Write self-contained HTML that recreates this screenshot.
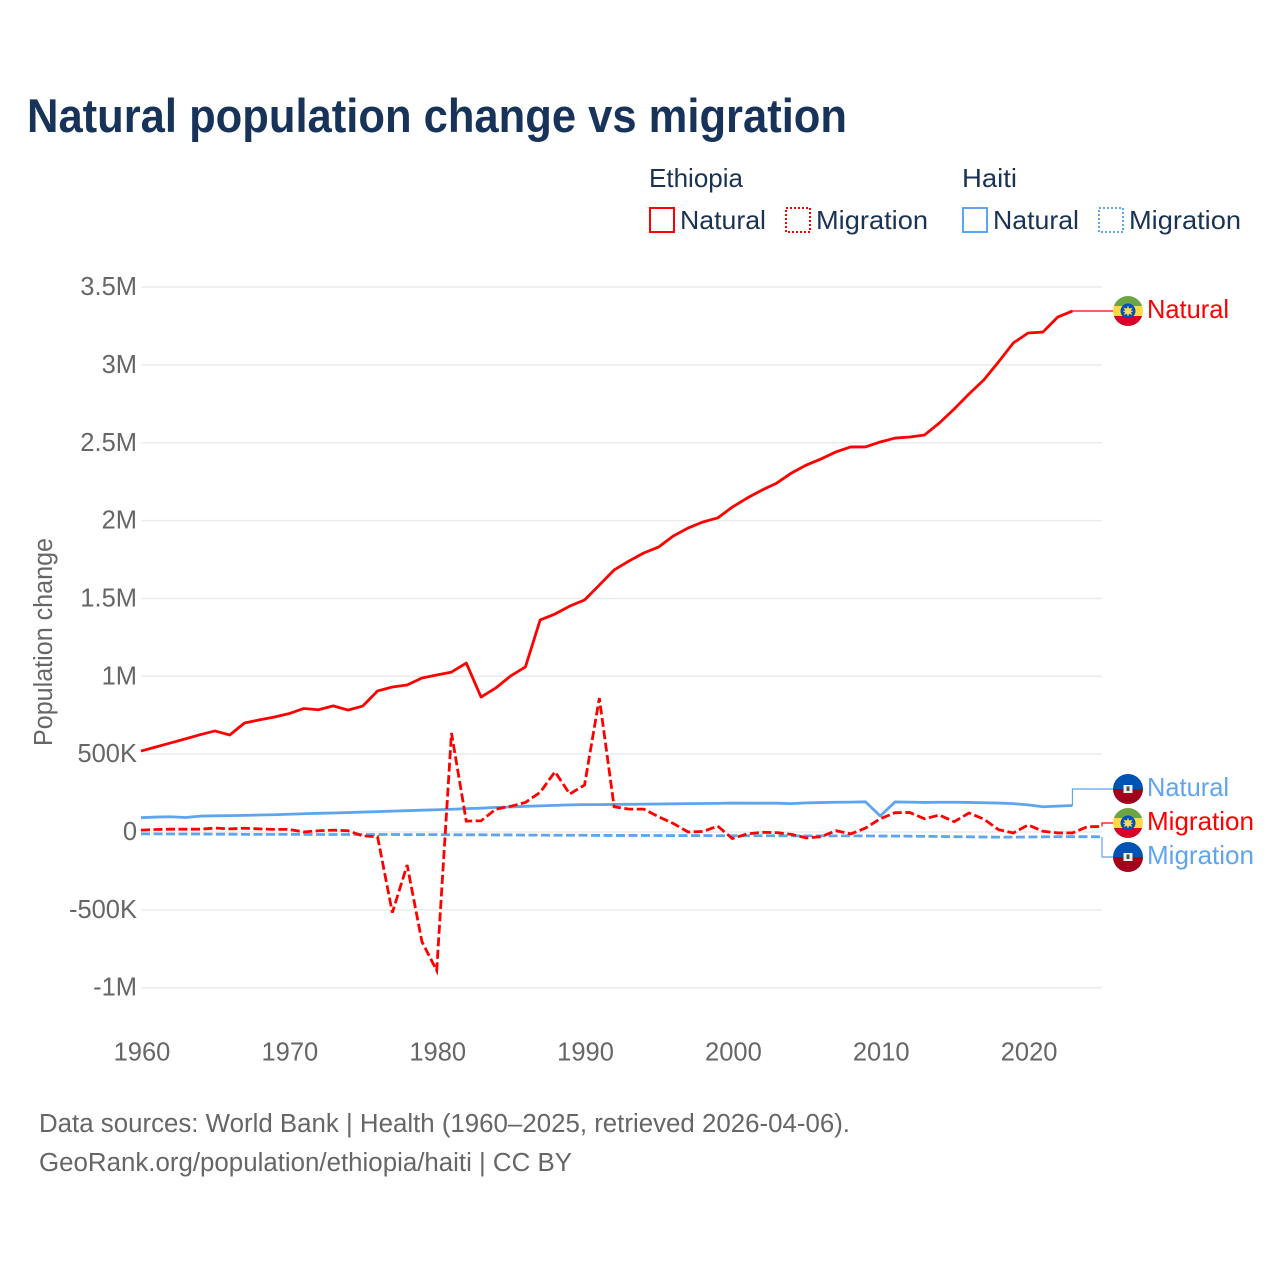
<!DOCTYPE html>
<html lang="en">
<head>
<meta charset="utf-8">
<title>Natural population change vs migration</title>
<style>
html,body{margin:0;padding:0;background:#fff;width:1280px;height:1280px;overflow:hidden}
svg{display:block}
text{font-family:"Liberation Sans",sans-serif}
.tick{font-size:25.5px;fill:#666}
.leg{font-size:26px;fill:#1a3354}
.lab{font-size:26px}
.foot{font-size:25.5px;fill:#666}
</style>
</head>
<body>
<svg id="chart" xmlns="http://www.w3.org/2000/svg" width="1280" height="1280" viewBox="0 0 1280 1280">
  <defs>
    <clipPath id="flag-clip"><circle cx="15" cy="15" r="15"/></clipPath>
    <g id="flag-et" clip-path="url(#flag-clip)">
      <rect width="30" height="10" fill="#6da544"/>
      <rect y="10" width="30" height="10" fill="#ffda44"/>
      <rect y="20" width="30" height="10" fill="#d80027"/>
      <circle cx="15" cy="15" r="7.5" fill="#0052b4"/>
      <polygon points="15,9.5 16.2,12.6 19.4,11.6 17.9,14.6 20.5,15 17.9,16.4 19.4,18.9 16.2,17.9 15,20.5 13.8,17.9 10.6,18.9 12.1,16.4 9.5,15 12.1,14.6 10.6,11.6 13.8,12.6" fill="#ffda44"/>
    </g>
    <g id="flag-ht" clip-path="url(#flag-clip)">
      <rect width="30" height="15" fill="#0052b4"/>
      <rect y="15" width="30" height="15" fill="#a2001d"/>
      <rect x="10.5" y="11" width="9" height="8" fill="#f0f0f0"/>
      <rect x="13.5" y="12.5" width="3" height="4.5" fill="#3d5a3a"/>
    </g>
  </defs>

  <text x="27" y="132" font-size="47" font-weight="700" fill="#17335a" textLength="820" lengthAdjust="spacingAndGlyphs">Natural population change vs migration</text>

  <g>
    <text class="leg" x="649" y="187" textLength="94" lengthAdjust="spacingAndGlyphs">Ethiopia</text>
    <text class="leg" x="962" y="187" textLength="55" lengthAdjust="spacingAndGlyphs">Haiti</text>
    <rect x="650" y="208" width="24" height="24" fill="none" stroke="#ff0000" stroke-width="2"/>
    <text class="leg" x="680" y="229" textLength="86" lengthAdjust="spacingAndGlyphs">Natural</text>
    <rect x="786" y="208" width="24" height="24" fill="none" stroke="#ff0000" stroke-width="2" stroke-dasharray="2 2"/>
    <text class="leg" x="816" y="229" textLength="112" lengthAdjust="spacingAndGlyphs">Migration</text>
    <rect x="963" y="208" width="24" height="24" fill="none" stroke="#5fa5ee" stroke-width="2"/>
    <text class="leg" x="993" y="229" textLength="86" lengthAdjust="spacingAndGlyphs">Natural</text>
    <rect x="1099" y="208" width="24" height="24" fill="none" stroke="#5fa5ee" stroke-width="2" stroke-dasharray="2 2"/>
    <text class="leg" x="1129" y="229" textLength="112" lengthAdjust="spacingAndGlyphs">Migration</text>
  </g>

  <text transform="translate(52,642) rotate(-90)" text-anchor="middle" font-size="25.5" fill="#666" textLength="208" lengthAdjust="spacingAndGlyphs">Population change</text>

  <g id="grid"></g>
  <g id="yticks"></g>
  <g id="xticks"></g>
  <g id="connectors"></g>
  <g id="series"></g>

  <g>
    <use href="#flag-et" x="1113" y="296"/>
    <text class="lab" fill="#ff0000" x="1147" y="318" textLength="82" lengthAdjust="spacingAndGlyphs">Natural</text>
    <use href="#flag-ht" x="1113" y="774"/>
    <text class="lab" fill="#5fa5ee" x="1147" y="796" textLength="82" lengthAdjust="spacingAndGlyphs">Natural</text>
    <use href="#flag-et" x="1113" y="808"/>
    <text class="lab" fill="#ff0000" x="1147" y="830" textLength="107" lengthAdjust="spacingAndGlyphs">Migration</text>
    <use href="#flag-ht" x="1113" y="842"/>
    <text class="lab" fill="#5fa5ee" x="1147" y="864" textLength="107" lengthAdjust="spacingAndGlyphs">Migration</text>
  </g>

  <text class="foot" x="39" y="1132" textLength="811" lengthAdjust="spacingAndGlyphs">Data sources: World Bank | Health (1960–2025, retrieved 2026-04-06).</text>
  <text class="foot" x="39" y="1171" textLength="533" lengthAdjust="spacingAndGlyphs">GeoRank.org/population/ethiopia/haiti | CC BY</text>
</svg>
<script>
const startYear = 1960;
const yTickValues = [3500, 3000, 2500, 2000, 1500, 1000, 500, 0, -500, -1000];
const yTickLabels = ["3.5M", "3M", "2.5M", "2M", "1.5M", "1M", "500K", "0", "-500K", "-1M"];
const xTickYears = [1960, 1970, 1980, 1990, 2000, 2010, 2020];

// Values in thousands, one per year from 1960
const ethiopiaNatural = [520,546,572,598,625,649,623,700,720,738,760,793,785,810,783,809,906,931,944,989,1008,1027,1085,867,925,1002,1060,1362,1400,1451,1490,1586,1683,1740,1792,1830,1901,1952,1991,2017,2087,2145,2196,2241,2306,2357,2396,2441,2473,2473,2505,2530,2537,2550,2627,2717,2813,2903,3019,3141,3205,3211,3307,3346];
const ethiopiaMigration = [12,16,18,18,18,25,20,24,20,17,17,0,8,12,8,-25,-30,-518,-212,-704,-890,636,70,72,147,165,190,255,387,244,302,860,162,147,147,98,55,0,3,38,-42,-12,-2,-4,-15,-38,-30,8,-12,25,85,124,125,85,109,66,122,83,15,-6,45,5,-6,-6,34,35];
const haitiNatural = [92,96,98,93,102,104,105,107,109,111,114,117,120,122,125,128,131,134,137,140,143,146,150,153,158,161,165,168,171,174,176,176,177,178,179,180,181,182,183,184,186,185,185,185,182,187,189,191,192,194,103,193,192,190,191,191,190,188,186,182,174,162,166,170];
const haitiMigration = [-12,-12,-13,-13,-13,-14,-14,-15,-15,-15,-15,-15,-16,-16,-16,-16,-16,-16,-17,-17,-17,-18,-18,-18,-19,-19,-20,-20,-21,-21,-21,-22,-22,-22,-22,-23,-23,-23,-23,-24,-24,-24,-24,-24,-25,-25,-25,-25,-25,-25,-26,-26,-27,-28,-29,-30,-31,-32,-33,-33,-32,-31,-30,-30,-30,-31];

const ns = "http://www.w3.org/2000/svg";
const plotLeft = 141, plotRight = 1102;
function xScale(year) { return 141 + (year - 1960) * 14.785; }
function yScale(v) { return 832 - v * 0.1557; }
function el(tag, parent, attrs, txt) {
  const e = document.createElementNS(ns, tag);
  for (const k in attrs) e.setAttribute(k, attrs[k]);
  if (txt !== undefined) e.textContent = txt;
  document.getElementById(parent).appendChild(e);
  return e;
}
function linePath(values) {
  return values.map((v, i) => (i ? "L" : "M") + xScale(startYear + i).toFixed(2) + " " + yScale(v).toFixed(2)).join(" ");
}

yTickValues.forEach((v, i) => {
  const line = el("line", "grid", {x1: plotLeft, x2: plotRight, y1: yScale(v), y2: yScale(v), stroke: "#ebebeb", "stroke-width": 1.5});
  
  
  const t = el("text", "yticks", {class: "tick", x: 137, y: yScale(v) + 8, "text-anchor": "end"}, yTickLabels[i]);
  
  
});
xTickYears.forEach(yr => {
  const t = el("text", "xticks", {class: "tick", x: xScale(yr) + 1, y: 1060.5, "text-anchor": "middle"}, String(yr));
  
  
});

function connector(values, labelY, color, name) {
  const i = values.length - 1;
  const p = el("path", "connectors", {d: "M" + xScale(startYear + i) + " " + yScale(values[i]) + " V" + labelY + " H1113", fill: "none", stroke: color, "stroke-width": 1.2});
  
  
}
connector(ethiopiaNatural, 311, "#ff0000", "connector-ethiopia-natural");
connector(haitiNatural, 789, "#5fa5ee", "connector-haiti-natural");
connector(ethiopiaMigration, 823, "#ff0000", "connector-ethiopia-migration");
connector(haitiMigration, 857, "#5fa5ee", "connector-haiti-migration");

const hm = el("path", "series", {d: linePath(haitiMigration), fill: "none", stroke: "#5fa5ee", "stroke-width": 2.8, "stroke-dasharray": "9 3.5"});


const hn = el("path", "series", {d: linePath(haitiNatural), fill: "none", stroke: "#5fa5ee", "stroke-width": 2.8, "stroke-linejoin": "round"});


const em = el("path", "series", {d: linePath(ethiopiaMigration), fill: "none", stroke: "#ff0000", "stroke-width": 2.8, "stroke-dasharray": "9 3.5"});


const en = el("path", "series", {d: linePath(ethiopiaNatural), fill: "none", stroke: "#ff0000", "stroke-width": 2.8, "stroke-linejoin": "round"});


</script>
</body>
</html>
